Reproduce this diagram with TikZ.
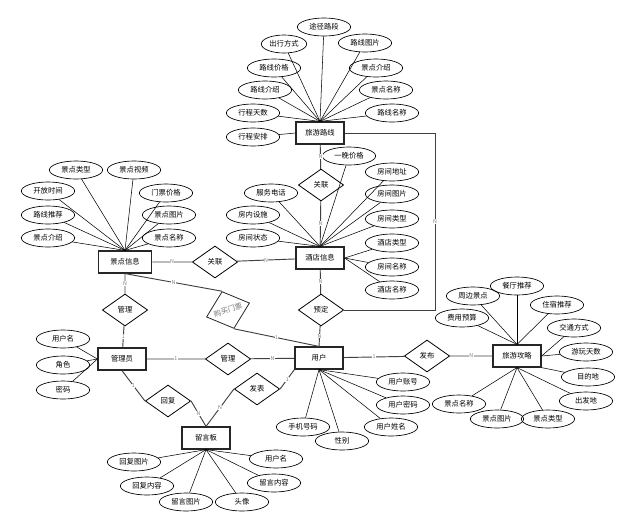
\documentclass[tikz,border=0pt]{standalone}
\usepackage{fontspec}
\setmainfont{Noto Sans CJK SC}
\usetikzlibrary{shapes.geometric}
\begin{document}
\begin{tikzpicture}[x=0.75pt,y=-0.75pt,
	ent/.style={draw, rectangle, line width=0.9pt, draw=black!85, minimum height=16.5pt, minimum width=36pt, inner sep=1pt, font=\fontsize{5.5}{6}\selectfont},
	attr/.style={draw, ellipse, line width=0.5pt, minimum height=13.5pt, minimum width=40pt, inner sep=0pt, font=\fontsize{5.5}{6}\selectfont},
	rel/.style={draw, diamond, line width=0.6pt, minimum width=34pt, minimum height=24pt, inner sep=0.5pt, font=\fontsize{5.5}{6}\selectfont},
	card/.style={fill=white, text=black!50, inner sep=0.3pt, font=\fontsize{4}{4}\selectfont},
	link/.style={line width=0.7pt, draw=black!75}]
				\useasboundingbox (0,0) rectangle (618,522);
				% entities
				\node[ent] (route) at (320,133) {旅游路线};
				\node[ent, minimum width=40pt] (scenic) at (125,262) {景点信息};
				\node[ent] (hotel) at (320,258) {酒店信息};
				\node[ent] (admin) at (122,359) {管理员};
				\node[ent] (user) at (319,358) {用户};
				\node[ent] (board) at (206,438) {留言板};
				\node[ent] (guide) at (517,356) {旅游攻略};
				% relations
				\node[rel] (relA) at (321,185) {关联};
				\node[rel] (relB) at (215,262) {关联};
				\node[rel] (book) at (321,310) {预定};
				\node[rel] (manA) at (125,310) {管理};
				\node[rel] (manB) at (228,359) {管理};
				\node[rel] (reply) at (168,401) {回复};
				\node[rel] (post) at (257,389) {发表};
				\node[rel] (publish) at (427,356) {发布};
				\node[rel, rotate=18, text=black!55, draw=black!85] (buy) at (228,310) {购买门票};
				\coordinate (rc) at (435,133);
				% route attributes
				\node[attr] (rt1) at (324,27) {途径路段};
				\node[attr, minimum width=34pt] (rt2) at (284,44) {出行方式};
				\node[attr] (rt3) at (365,43) {路线图片};
				\node[attr] (rt4) at (274,68) {路线价格};
				\node[attr] (rt5) at (376,68) {景点介绍};
				\node[attr] (rt6) at (265,90) {路线介绍};
				\node[attr] (rt7) at (386,90) {景点名称};
				\node[attr] (rt8) at (253,113) {行程天数};
				\node[attr] (rt9) at (392,113) {路线名称};
				\node[attr] (rt10) at (253,137) {行程安排};
				\foreach \a in {rt1,rt2,rt3,rt4,rt5,rt6,rt7,rt8,rt9}
					\draw (route.north) -- (\a);
				\draw (route.west) -- (rt10);
				% scenic attributes
				\node[attr] (sc1) at (76,170) {景点类型};
				\node[attr] (sc2) at (134,170) {景点视频};
				\node[attr] (sc3) at (48,191) {开放时间};
				\node[attr] (sc4) at (166,193) {门票价格};
				\node[attr] (sc5) at (48,215) {路线推荐};
				\node[attr] (sc6) at (169,215) {景点图片};
				\node[attr] (sc7) at (48,238) {景点介绍};
				\node[attr] (sc8) at (169,238) {景点名称};
				\foreach \a in {sc1,sc2,sc3,sc4,sc5,sc6,sc7,sc8}
					\draw (scenic.north) -- (\a);
				% hotel attributes
				\node[attr] (ht1) at (349,156) {一晚价格};
				\node[attr] (ht2) at (392,172) {房间地址};
				\node[attr] (ht3) at (271,193) {服务电话};
				\node[attr] (ht4) at (392,194) {房间图片};
				\node[attr] (ht5) at (253,215) {房内设施};
				\node[attr] (ht6) at (392,219) {房间类型};
				\node[attr] (ht7) at (253,238) {房间状态};
				\node[attr] (ht8) at (392,243) {酒店类型};
				\node[attr] (ht9) at (392,267) {房间名称};
				\node[attr] (ht10) at (392,290) {酒店名称};
				\foreach \a in {ht1,ht2,ht3,ht4,ht5,ht6,ht7}
					\draw (hotel.north) -- (\a);
				\foreach \a in {ht8,ht9,ht10}
					\draw (hotel.east) -- (\a);
				% admin attributes
				\node[attr] (ad1) at (63,339) {用户名};
				\node[attr] (ad2) at (63,365) {角色};
				\node[attr] (ad3) at (63,390) {密码};
				\foreach \a in {ad1,ad2,ad3}
					\draw (admin.west) -- (\a);
				% board attributes
				\node[attr] (bd1) at (134,462) {回复图片};
				\node[attr] (bd2) at (276,459) {用户名};
				\node[attr] (bd3) at (147,486) {回复内容};
				\node[attr] (bd4) at (274,483) {留言内容};
				\node[attr] (bd5) at (186,502) {留言图片};
				\node[attr] (bd6) at (242,502) {头像};
				\foreach \a in {bd1,bd2,bd3,bd4,bd5,bd6}
					\draw (board.south) -- (\a);
				% user attributes
				\node[attr] (us1) at (403,382) {用户账号};
				\node[attr] (us2) at (403,405) {用户密码};
				\node[attr] (us3) at (303,427) {手机号码};
				\node[attr] (us4) at (391,427) {用户姓名};
				\node[attr] (us5) at (342,441) {性别};
				\foreach \a in {us1,us2,us3,us4,us5}
					\draw (user.south) -- (\a);
				% guide attributes
				\node[attr] (gd1) at (473,296) {周边景点};
				\node[attr] (gd2) at (517,286) {餐厅推荐};
				\node[attr] (gd3) at (557,305) {住宿推荐};
				\node[attr] (gd4) at (462,318) {费用预算};
				\node[attr] (gd5) at (574,328) {交通方式};
				\node[attr] (gd6) at (586,352) {游玩天数};
				\node[attr] (gd7) at (588,377) {目的地};
				\node[attr] (gd8) at (586,401) {出发地};
				\node[attr] (gd9) at (459,404) {景点名称};
				\node[attr] (gd10) at (497,419) {景点图片};
				\node[attr] (gd11) at (548,419) {景点类型};
				\foreach \a in {gd1,gd2,gd3,gd4}
					\draw (guide.north) -- (\a);
				\draw (guide.east) -- (gd5);
				\draw (guide.east) -- (gd6);
				\draw (guide.south east) -- (gd7);
				\foreach \a in {gd8,gd9,gd10,gd11}
					\draw (guide.south) -- (\a);
				% relationships
				\draw[link] (route) -- node[card] {N} (relA) -- node[card] {N} (hotel);
				\draw[link] (scenic) -- node[card] {N} (relB) -- node[card] {N} (hotel);
				\draw[link] (hotel) -- node[card] {N} (book) -- node[card] {N} (user.north);
				\draw[link] (route.east) -- (rc) |- node[card, pos=0.25] {N} (book.east);
				\draw[link] (scenic) -- node[card] {N} (manA) -- node[card] {1} (admin);
				\draw[link] (scenic.south) -- node[card] {N} (buy.north);
				\draw[link] (buy.south) -- node[card] {1} (user.north);
				\draw[link] (admin) -- node[card] {1} (manB) -- node[card] {N} (user);
				\draw[link] (admin.south) -- node[card] {1} (reply.west);
				\draw[link] (reply.east) -- node[card] {N} (board.north);
				\draw[link] (board.north) -- node[card] {N} (post.west);
				\draw[link] (post.east) -- node[card] {1} (user.south west);
				\draw[link] (user) -- node[card] {1} (publish) -- node[card] {N} (guide);
			\end{tikzpicture}
\end{document}
